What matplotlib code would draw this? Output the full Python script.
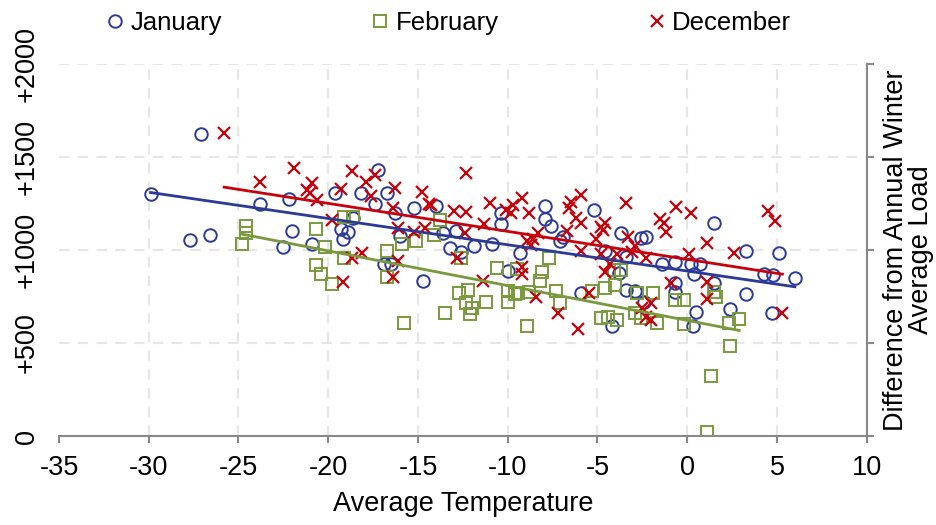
import matplotlib
matplotlib.use("Agg")
import matplotlib.pyplot as plt
import numpy as np

plt.rcParams['font.family'] = ['Liberation Sans', 'DejaVu Sans']
plt.rcParams['axes.unicode_minus'] = False

# values
jan_temp = [-29.9, -27.1, -27.7, -26.6, -23.8, -22.2, -22.0, -22.5, -20.9, -19.6,
            -18.2, -17.2, -17.4, -16.7, -16.3, -15.2, -16.0, -19.3, -18.9, -19.2,
            -18.6, -16.9, -16.5, -14.0, -13.6, -12.9, -13.2, -12.6, -11.9, -10.9,
            -10.4, -10.4, -9.3, -10.0, -14.7, -7.9, -7.9, -7.6, -7.1, -6.9,
            -5.2, -4.6, -3.7, -3.4, -3.8, -2.6, -2.3, -1.4, -0.7, 0.2,
            0.4, 0.7, 1.5, 1.5, 3.3, 5.1, 4.3, 4.8, 6.0, -0.7,
            -5.9, -3.4, -2.9, -2.4, -0.7, 0.5, 2.4, 3.3, 4.7, -4.2, 0.3]
jan_load = [1301, 1624, 1054, 1081, 1247, 1274, 1102, 1016, 1032, 1306,
            1306, 1430, 1247, 1306, 1199, 1226, 1075, 1113, 1097, 1059,
            1172, 925, 925, 1237, 1091, 1102, 1011, 989, 1022, 1032,
            1199, 1140, 984, 887, 833, 1237, 1167, 1129, 1048, 1070,
            1215, 995, 1091, 962, 876, 1064, 1070, 925, 935, 925,
            871, 925, 1145, 823, 995, 984, 871, 865, 849, 823,
            769, 785, 780, 720, 774, 667, 683, 763, 661, 591, 591]

feb_temp = [-24.6, -24.6, -24.8, -20.7, -20.2, -20.7, -20.4, -19.8, -19.1, -18.6,
            -19.1, -16.7, -15.9, -16.7, -15.1, -13.8, -14.1, -7.7, -15.8, -13.5,
            -12.7, -12.2, -12.3, -12.0, -12.1, -11.2, -12.6, -10.6, -10.0, -10.0,
            -9.4, -8.8, -8.9, -9.5, -8.1, -8.2, -7.3, -7.1, -5.3, -4.6,
            -4.0, -4.8, -4.4, -3.9, -2.8, -1.9, -2.9, -2.6, -1.7, -0.7,
            -0.2, -0.2, 1.5, 1.6, 2.3, 2.9, 2.4, 1.3, 1.1, -3.7, -4.1, -9.6]
feb_load = [1129, 1091, 1032, 1113, 1016, 919, 871, 817, 1177, 1177,
            957, 995, 1032, 855, 1048, 1161, 1081, 955, 608, 661,
            769, 785, 715, 688, 656, 720, 957, 903, 780, 720,
            769, 774, 591, 898, 882, 833, 780, 715, 780, 796,
            812, 634, 640, 624, 769, 769, 661, 634, 608, 731,
            731, 602, 774, 747, 608, 629, 484, 323, 22, 892, 892, 763]

dec_temp = [-25.8, -23.8, -21.9, -21.2, -20.9, -21.0, -20.6, -19.3, -18.7, -17.9,
            -17.4, -17.6, -16.3, -16.4, -19.8, -16.1, -15.2, -18.1, -18.7, -16.1,
            -16.4, -19.2, -14.8, -14.4, -14.3, -14.6, -12.3, -13.0, -12.3, -12.4,
            -11.3, -11.0, -10.1, -9.7, -9.8, -9.2, -8.8, -6.5, -6.6, -5.9,
            -6.2, -5.9, -8.9, -8.6, -8.3, -8.7, -12.8, -9.2, -9.2, -11.4,
            -6.7, -4.8, -4.6, -4.7, -5.1, -5.9, -4.8, -4.6, -3.4, -3.3,
            -2.9, -3.1, -2.3, -3.9, -0.9, -0.6, 0.2, -1.5, -1.3, -1.2,
            0.1, 1.1, 1.1, 2.6, 4.5, 4.9, -8.4, -7.2, -6.1, -5.5,
            -2.5, -2.0, -2.0, -2.3, 1.1, 5.3, -4.3]
dec_load = [1629, 1366, 1441, 1323, 1358, 1306, 1269, 1328, 1425, 1366,
            1403, 1290, 1333, 1226, 1161, 1118, 1097, 984, 957, 941,
            855, 828, 1312, 1247, 1242, 1118, 1414, 1210, 1204, 1091,
            1140, 1253, 1215, 1242, 1199, 1280, 1199, 1258, 1226, 1296,
            1172, 1145, 1048, 1059, 1091, 1027, 957, 909, 871, 833,
            1102, 1124, 1145, 1108, 1059, 995, 978, 882, 1253, 1070,
            1022, 989, 957, 978, 823, 1231, 1199, 1167, 1145, 1097,
            978, 1038, 828, 984, 1210, 1156, 747, 661, 575, 769,
            688, 715, 624, 640, 737, 661, 925]

xticks = [-35, -30, -25, -20, -15, -10, -5, 0, 5, 10]
yticks = [0, 500, 1000, 1500, 2000]
ylabels = ["0", "+500", "+1000", "+1500", "+2000"]

blue = "#2b3a96"
green = "#789a3c"
red = "#c8000a"

fig = plt.figure(figsize=(9.36, 5.25), dpi=100)
ax = fig.add_axes([0.063, 0.1695, 0.863, 0.7085])

# grid
for x in xticks[1:-1]:
    ax.axvline(x, color="#e6e6e6", lw=1.5, ls=(0, (5, 4)), zorder=0)
for y in yticks[1:]:
    ax.axhline(y, color="#e6e6e6", lw=1.5, ls=(0, (5, 4)), zorder=0)

series = [
    (jan_temp, jan_load, "o", blue, "January"),
    (feb_temp, feb_load, "s", green, "February"),
    (dec_temp, dec_load, "x", red, "December"),
]
for t, l, m, c, name in series:
    t = np.array(t)
    l = np.array(l)
    if m == "x":
        ax.plot(t, l, ls="none", marker=m, ms=9, mew=1.6, color=c, label=name)
    else:
        ax.plot(t, l, ls="none", marker=m, ms=9 if m == "o" else 8.5, mew=1.4,
                mfc="none", mec=c, label=name)

for t, l, m, c, name in series:
    t = np.array(t)
    l = np.array(l)
    b, a = np.polyfit(t, l, 1)
    xs = np.array([t.min(), t.max()])
    ax.plot(xs, a + b * xs, color=c, lw=2)

ax.set_xlim(-35, 10)
ax.set_ylim(0, 2000)
ax.set_xticks(xticks)
ax.set_xticklabels([str(v) for v in xticks], fontsize=19.5)
ax.set_yticks(yticks)
ax.set_yticklabels(ylabels, fontsize=19.5, rotation=90, va="center")

for s in ["left", "top"]:
    ax.spines[s].set_visible(False)
for s in ["right", "bottom"]:
    ax.spines[s].set_color("#888888")
    ax.spines[s].set_linewidth(1.5)

ax.tick_params(axis="x", direction="out", length=5, width=1.5, color="#888888", pad=9)
ax.tick_params(axis="y", left=False, right=True, labelleft=True, labelright=False,
               direction="out", length=5, width=1.5, color="#888888", pad=9)

ax.set_xlabel("Average Temperature", fontsize=19.5, labelpad=7)
ax.yaxis.set_label_position("right")
ax.set_ylabel("Difference from Annual Winter\nAverage Load", fontsize=19.5,
              labelpad=7, linespacing=0.95)

fig.legend(loc="upper left", bbox_to_anchor=(0.104, 0.998), ncol=3, frameon=False,
           fontsize=18.5, handlelength=0.6, handletextpad=0.3, columnspacing=5.85,
           borderaxespad=0)

fig.savefig("out.png", dpi=100)
